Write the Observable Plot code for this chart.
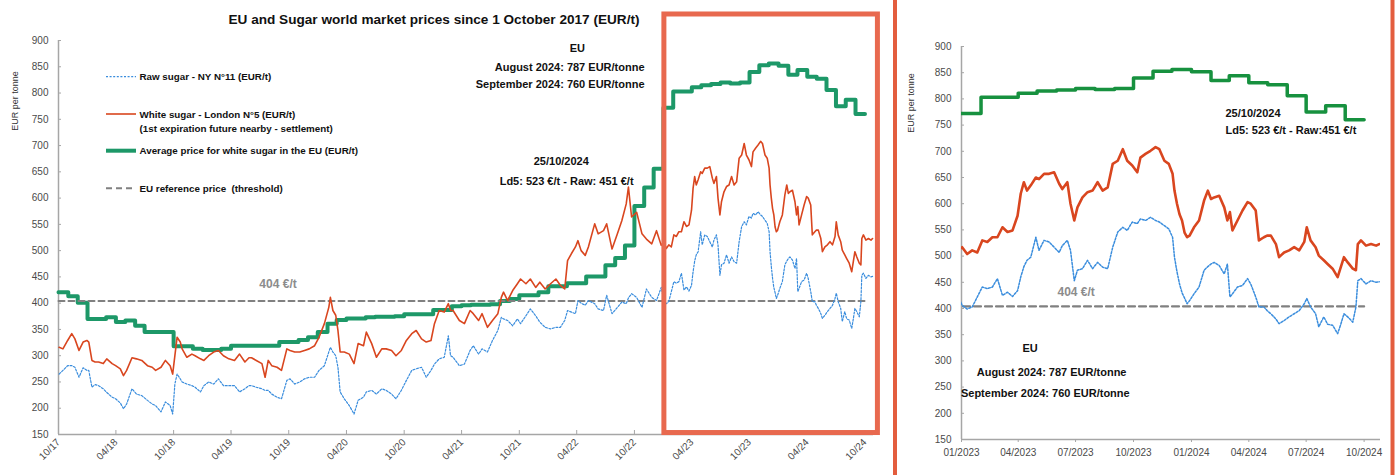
<!DOCTYPE html>
<html><head><meta charset="utf-8">
<script src="https://cdn.jsdelivr.net/npm/d3@7"></script>
<script src="https://cdn.jsdelivr.net/npm/@observablehq/plot@0.6"></script>
<style>
body{margin:0;background:#fff;}
#wrap{position:relative;width:1399px;height:475px;overflow:hidden;background:#fff;}
#wrap svg{position:absolute;top:0;}
</style></head><body><div id="wrap"></div>
<script>
// ---------------- DATA ----------------
const chartTitle = "EU and Sugar world market prices since 1 October 2017 (EUR/t)";
const yLabel = "EUR per tonne";
const yTicks = [150, 200, 250, 300, 350, 400, 450, 500, 550, 600, 650, 700, 750, 800, 850, 900];
const leftTicks = ["2017-10-01","2018-04-01","2018-10-01","2019-04-01","2019-10-01","2020-04-01","2020-10-01","2021-04-01","2021-10-01","2022-04-01","2022-10-01","2023-04-01","2023-10-01","2024-04-01","2024-10-01"];
const rightTicks = ["2023-01-01","2023-04-01","2023-07-01","2023-10-01","2024-01-01","2024-04-01","2024-07-01","2024-10-01"];
const legendLabels = ["Raw sugar - NY N°11 (EUR/t)", "White sugar - London N°5 (EUR/t)", "(1st expiration future nearby - settlement)", "Average price for white sugar in the EU (EUR/t)", "EU reference price  (threshold)"];

const dates = [
"2017-10-03","2017-10-15","2017-10-30","2017-11-12","2017-11-22","2017-12-05","2017-12-18","2017-12-30",
"2018-01-05","2018-01-15","2018-01-25","2018-02-05","2018-02-20","2018-03-03","2018-03-20","2018-03-31","2018-04-15","2018-04-25","2018-05-05","2018-05-22","2018-06-05","2018-06-22","2018-07-10","2018-07-25","2018-08-05","2018-08-22","2018-09-05","2018-09-20","2018-09-28","2018-10-05","2018-10-12","2018-10-22","2018-10-28","2018-11-12","2018-11-28","2018-12-08","2018-12-25",
"2019-01-05","2019-01-20","2019-02-05","2019-02-20","2019-03-08","2019-03-25","2019-04-12","2019-04-28","2019-05-15","2019-05-28","2019-06-05","2019-06-20","2019-07-08","2019-07-18","2019-07-28","2019-08-08","2019-08-25","2019-09-08","2019-09-25","2019-10-05","2019-10-20","2019-11-05","2019-11-20","2019-12-05","2019-12-22",
"2020-01-05","2020-01-22","2020-02-05","2020-02-10","2020-02-18","2020-02-27","2020-03-05","2020-03-12","2020-03-25","2020-04-10","2020-04-25","2020-05-08","2020-05-25","2020-06-03","2020-06-20","2020-07-05","2020-07-22","2020-08-05","2020-08-22","2020-09-05","2020-09-22","2020-10-08","2020-10-25","2020-11-08","2020-11-25","2020-12-10","2020-12-25",
"2021-01-05","2021-01-20","2021-02-05","2021-02-18","2021-02-25","2021-03-05","2021-03-25","2021-04-10","2021-04-28","2021-05-08","2021-05-25","2021-06-05","2021-06-22","2021-07-08","2021-07-25","2021-08-05","2021-08-12","2021-08-25","2021-09-10","2021-09-25","2021-10-05","2021-10-22","2021-11-05","2021-11-22","2021-12-05","2021-12-22",
"2022-01-08","2022-01-25","2022-02-08","2022-02-22","2022-03-03","2022-03-15","2022-03-28","2022-04-05","2022-04-15","2022-04-28","2022-05-08","2022-05-28","2022-06-08","2022-06-25","2022-07-05","2022-07-22","2022-08-08","2022-08-22","2022-09-05","2022-09-12","2022-09-22","2022-10-08","2022-10-25","2022-11-08","2022-11-25","2022-12-10","2022-12-25",
"2023-01-02","2023-01-10","2023-01-18","2023-01-26","2023-02-03","2023-02-11","2023-02-19","2023-02-27","2023-03-07","2023-03-15","2023-03-23","2023-03-31","2023-04-05","2023-04-10","2023-04-15","2023-04-21","2023-04-29","2023-05-04","2023-05-12","2023-05-20","2023-05-28","2023-06-05","2023-06-10","2023-06-18","2023-06-23","2023-06-29","2023-07-04","2023-07-12","2023-07-20","2023-07-28","2023-08-05","2023-08-13","2023-08-21","2023-08-29","2023-09-06","2023-09-14","2023-09-21","2023-09-29","2023-10-07","2023-10-12","2023-10-20","2023-10-28","2023-11-05","2023-11-11","2023-11-19","2023-11-26","2023-12-02","2023-12-05","2023-12-09","2023-12-13","2023-12-17","2023-12-21","2023-12-25","2023-12-29",
"2024-01-05","2024-01-13","2024-01-21","2024-01-27","2024-02-01","2024-02-06","2024-02-14","2024-02-22","2024-02-27","2024-03-02","2024-03-06","2024-03-14","2024-03-22","2024-03-30","2024-04-04","2024-04-12","2024-04-17","2024-04-25","2024-04-30","2024-05-06","2024-05-14","2024-05-19","2024-05-27","2024-06-04","2024-06-12","2024-06-20","2024-06-28","2024-07-02","2024-07-08","2024-07-16","2024-07-21","2024-07-29","2024-08-04","2024-08-12","2024-08-20","2024-08-25","2024-08-30","2024-09-05","2024-09-13","2024-09-18","2024-09-21","2024-09-26","2024-10-04","2024-10-12","2024-10-20","2024-10-25"];

const whiteSugar = [
316,313,329,342,332,310,326,329,
326,291,288,288,285,294,285,281,275,262,272,296,294,291,281,278,272,278,291,281,265,300,335,326,313,297,303,300,294,
291,300,307,310,300,294,291,303,288,296,296,291,285,259,291,281,278,272,313,310,307,307,310,313,319,
335,361,392,411,386,377,348,307,307,303,285,323,319,345,323,297,313,313,310,300,310,329,342,348,332,326,329,
361,386,383,399,386,386,367,361,386,380,367,380,354,367,380,411,421,405,424,437,446,437,446,430,440,427,
437,446,434,427,481,494,507,519,500,491,507,551,532,538,551,503,532,557,589,621,564,573,532,522,513,538,510,
517,504,511,507,530,527,536,536,555,546,549,577,619,641,625,635,650,647,657,657,660,638,628,641,600,568,593,612,622,625,641,625,631,676,682,704,682,673,660,688,695,701,708,704,682,676,657,625,600,580,568,545,536,539,
555,568,606,625,609,612,615,593,568,584,549,568,587,603,600,587,530,536,539,539,523,498,507,511,517,511,527,555,530,517,501,492,485,476,460,479,498,488,476,473,523,530,520,523,520,523];

const rawSugar = [
265,272,281,281,278,259,277,272,
272,240,245,243,237,230,221,218,210,199,208,237,227,224,215,208,205,193,212,205,189,246,265,256,250,246,243,240,231,
243,250,246,256,243,243,243,231,237,243,243,240,237,234,234,227,221,218,253,256,246,250,256,259,259,
272,281,307,316,307,300,278,231,218,205,189,215,221,231,234,227,237,234,227,218,234,253,272,275,278,259,272,
284,294,297,338,300,297,281,284,310,319,303,313,307,329,348,373,370,367,357,370,361,376,389,376,364,354,
351,354,354,367,386,383,380,405,400,396,405,399,389,386,415,380,392,402,399,410,418,411,392,427,411,405,430,
406,399,403,422,441,438,441,457,425,431,423,434,460,480,492,498,536,511,530,527,517,507,520,530,511,453,473,476,492,476,488,479,476,517,546,555,549,565,562,571,568,574,568,565,558,552,536,498,470,447,430,420,409,415,
428,441,473,480,485,488,482,466,485,422,428,441,444,457,447,422,403,403,396,390,380,371,377,384,390,396,409,419,403,390,365,384,370,368,352,370,390,384,374,403,453,457,447,453,450,451];

const euMonths = [
"2017-10","2017-11","2017-12",
"2018-01","2018-02","2018-03","2018-04","2018-05","2018-06","2018-07","2018-08","2018-09","2018-10","2018-11","2018-12",
"2019-01","2019-02","2019-03","2019-04","2019-05","2019-06","2019-07","2019-08","2019-09","2019-10","2019-11","2019-12",
"2020-01","2020-02","2020-03","2020-04","2020-05","2020-06","2020-07","2020-08","2020-09","2020-10","2020-11","2020-12",
"2021-01","2021-02","2021-03","2021-04","2021-05","2021-06","2021-07","2021-08","2021-09","2021-10","2021-11","2021-12",
"2022-01","2022-02","2022-03","2022-04","2022-05","2022-06","2022-07","2022-08","2022-09","2022-10","2022-11","2022-12",
"2023-01","2023-02","2023-03","2023-04","2023-05","2023-06","2023-07","2023-08","2023-09","2023-10","2023-11","2023-12",
"2024-01","2024-02","2024-03","2024-04","2024-05","2024-06","2024-07","2024-08","2024-09"];
const euAverage = [
421,413,401,
370,370,373,364,367,357,345,345,345,318,318,313,
311,311,313,319,319,319,319,319,326,326,330,335,
345,361,368,371,371,373,374,374,375,379,379,379,
387,387,394,396,397,397,398,404,408,415,415,421,
432,432,438,438,451,451,472,486,510,585,620,656,
772,803,803,811,815,817,820,818,820,840,853,856,
852,835,844,831,827,806,775,787,760];

const refPrice = 404;
const refDates = ["2017-10-01","2024-10-01"];

// ---------------- BUILD ----------------
const FONT = '"Liberation Sans", Arial, sans-serif';
const C = {raw:"#3a8ddd", white:"#d9461f", eu:"#1d9868", euR:"#17913f", ref:"#808080", box:"#e8694f", border:"#e35d3e"};
const rows = dates.map((d,i)=>({date:new Date(d), white:whiteSugar[i], raw:rawSugar[i]}));
const euRows = euMonths.map((m,i)=>({date:new Date(m+"-01"), value:euAverage[i]}));
euRows.push({date:d3.utcMonth.offset(euRows[euRows.length-1].date,1), value:euAverage[euAverage.length-1]});
const refRows = refDates.map(d=>({date:new Date(d), value:refPrice}));
const D = s=>new Date(s);

const wrap = document.getElementById("wrap");

// Left panel
const leftStart = D("2017-10-01"), leftEnd = D("2024-10-28");
const left = Plot.plot({
  width: 890, height: 475,
  marginLeft: 58, marginRight: 17, marginTop: 40, marginBottom: 41,
  style: {fontFamily: FONT, fontSize: "10px", color: "#4a4a4a", background: "transparent", overflow: "visible"},
  x: {type: "utc", domain: [leftStart, leftEnd]},
  y: {domain: [150, 900]},
  marks: [
    Plot.ruleX([leftStart], {stroke: "#a6a6a6", strokeWidth: 1.5}),
    Plot.ruleY([150], {stroke: "#a6a6a6", strokeWidth: 1.5}),
    Plot.axisY({ticks: yTicks, tickSize: -3, tickPadding: 13, label: null, stroke: "#a6a6a6"}),
    Plot.axisX({ticks: leftTicks.map(D), tickFormat: d3.utcFormat("%m/%y"), tickRotate: -45, tickSize: -4, tickPadding: 10, label: null, stroke: "#a6a6a6"}),
    Plot.line(euRows, {x: "date", y: "value", curve: "step-after", stroke: C.eu, strokeWidth: 4}),
    Plot.line(refRows, {x: "date", y: "value", stroke: C.ref, strokeWidth: 2, strokeDasharray: "6,4"}),
    Plot.line(rows, {x: "date", y: "raw", stroke: C.raw, strokeWidth: 1.2, strokeDasharray: "2,1.6"}),
    Plot.line(rows, {x: "date", y: "white", stroke: C.white, strokeWidth: 1.6}),
    Plot.text([{date: D("2019-08-28"), value: 437, t: "404 €/t"}], {x: "date", y: "value", text: "t", fill: "#8c8c8c", fontWeight: "bold", fontSize: 12}),
    Plot.text([
      {date: D("2022-04-03"), value: 885, t: "EU"},
      {date: D("2022-02-11"), value: 670, t: "25/10/2024"},
      {date: D("2022-02-28"), value: 632, t: "Ld5: 523 €/t - Raw: 451 €/t"}
    ], {x: "date", y: "value", text: "t", fill: "#111", fontWeight: "bold", fontSize: 11}),
    Plot.text([
      {date: D("2022-11-02"), value: 849, t: "August 2024: 787 EUR/tonne"},
      {date: D("2022-11-02"), value: 816, t: "September 2024: 760 EUR/tonne"}
    ], {x: "date", y: "value", text: "t", textAnchor: "end", fill: "#111", fontWeight: "bold", fontSize: 11}),
    Plot.rect([{x1: D("2023-01-04"), x2: D("2024-11-11"), y1: 152.8, y2: 949.5}], {x1: "x1", x2: "x2", y1: "y1", y2: "y2", fill: "none", stroke: C.box, strokeWidth: 5})
  ]
});
left.style.left = "0px";
wrap.appendChild(left);

// Right panel
const rightStart = D("2023-01-01"), rightEnd = D("2024-10-27");
const rRows = rows.filter(d => d.date >= D("2022-12-20"));
const rEu = euRows.filter(d => d.date >= rightStart);
const right = Plot.plot({
  width: 490, height: 475,
  marginLeft: 63, marginRight: 8, marginTop: 46, marginBottom: 36,
  style: {fontFamily: FONT, fontSize: "10px", color: "#4a4a4a", background: "transparent", overflow: "visible"},
  x: {type: "utc", domain: [rightStart, rightEnd]},
  y: {domain: [150, 900]},
  marks: [
    Plot.ruleX([rightStart], {stroke: "#a6a6a6", strokeWidth: 1.5}),
    Plot.ruleY([150], {stroke: "#a6a6a6", strokeWidth: 1.5}),
    Plot.axisY({ticks: yTicks, tickSize: -3, tickPadding: 13, label: null, stroke: "#a6a6a6"}),
    Plot.axisX({ticks: rightTicks.map(D), tickFormat: d3.utcFormat("%m/%Y"), tickSize: 3, tickPadding: 6, label: null, stroke: "#a6a6a6"}),
    Plot.line(rEu, {x: "date", y: "value", curve: "step-after", stroke: C.euR, strokeWidth: 3.5, clip: true}),
    Plot.line(refRows, {x: "date", y: "value", stroke: C.ref, strokeWidth: 2.2, strokeDasharray: "7,4", clip: true}),
    Plot.line(rRows, {x: "date", y: "raw", stroke: C.raw, strokeWidth: 1.5, strokeDasharray: "2,1.6", clip: true}),
    Plot.line(rRows, {x: "date", y: "white", stroke: C.white, strokeWidth: 2.6, clip: true}),
    Plot.text([{date: D("2023-07-02"), value: 431, t: "404 €/t"}], {x: "date", y: "value", text: "t", fill: "#8c8c8c", fontWeight: "bold", fontSize: 12}),
    Plot.text([
      {date: D("2024-02-24"), value: 772, t: "25/10/2024"},
      {date: D("2024-02-24"), value: 739, t: "Ld5: 523 €/t - Raw:451 €/t"}
    ], {x: "date", y: "value", text: "t", textAnchor: "start", fill: "#111", fontWeight: "bold", fontSize: 11}),
    Plot.text([
      {date: D("2023-04-20"), value: 324, t: "EU"},
      {date: D("2023-05-24"), value: 278, t: "August 2024: 787 EUR/tonne"},
      {date: D("2023-05-14"), value: 238, t: "September 2024: 760 EUR/tonne"}
    ], {x: "date", y: "value", text: "t", fill: "#111", fontWeight: "bold", fontSize: 11})
  ]
});
right.style.left = "898px";
wrap.appendChild(right);

// Overlay: title, legend, axis labels, right frame
const svg = d3.select(wrap).append("svg")
  .attr("width", 1399).attr("height", 475)
  .style("left", "0px").style("pointer-events", "none")
  .style("font-family", FONT);

svg.append("text").attr("x", 434).attr("y", 19).attr("text-anchor", "middle")
  .attr("dominant-baseline", "central").attr("font-weight", "bold").attr("font-size", 13.6)
  .attr("fill", "#111").text(chartTitle);

[[15, 101], [911, 103]].forEach(([x, y]) => {
  svg.append("text").attr("transform", `translate(${x},${y}) rotate(-90)`)
    .attr("text-anchor", "middle").attr("dominant-baseline", "central")
    .attr("font-size", 9).attr("fill", "#333").text(yLabel);
});

const lg = svg.append("g").attr("font-size", 9.8).attr("font-weight", "bold").attr("fill", "#111");
const legendY = [76.7, 114, 128.3, 150.7, 188.3];
legendLabels.forEach((t, i) => {
  lg.append("text").attr("x", 139.5).attr("y", legendY[i]).attr("dominant-baseline", "central")
    .style("white-space", "pre").text(t);
});
const sw = [
  {y: legendY[0], stroke: C.raw, w: 1.2, dash: "2,1.6"},
  {y: legendY[1], stroke: C.white, w: 1.6, dash: null},
  {y: legendY[3], stroke: C.eu, w: 4, dash: null},
  {y: legendY[4], stroke: C.ref, w: 2, dash: "6,4"}
];
sw.forEach(s => {
  svg.append("line").attr("x1", 106).attr("x2", 136).attr("y1", s.y).attr("y2", s.y)
    .attr("stroke", s.stroke).attr("stroke-width", s.w).attr("stroke-dasharray", s.dash);
});

svg.append("rect").attr("x", 895).attr("y", -6).attr("width", 497.5).attr("height", 490)
  .attr("fill", "none").attr("stroke", C.border).attr("stroke-width", 4);
</script>
</body></html>
